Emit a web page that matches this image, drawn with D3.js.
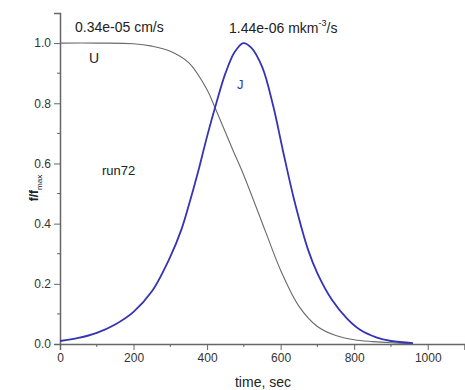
<!DOCTYPE html>
<html>
<head>
<meta charset="utf-8">
<script src="https://cdn.jsdelivr.net/npm/d3@7"></script>
<style>
  body { margin: 0; background: #fff; }
  text { font-family: Arial, "Liberation Sans", sans-serif; }
</style>
</head>
<body>
<div id="chart"></div>
<script>
// curve U (normalised)
const uTime = [0, 100, 200, 250, 300, 350, 400, 420, 470, 500, 560, 600, 650, 700, 750, 800, 850, 900, 960];
const uValue = [1.0, 1.0, 0.998, 0.99, 0.973, 0.935, 0.845, 0.79, 0.645, 0.56, 0.37, 0.245, 0.125, 0.058, 0.028, 0.014, 0.008, 0.004, 0.001];

// curve J (normalised)
const jTime = [0, 50, 100, 150, 200, 250, 300, 330, 350, 375, 400, 425, 450, 475, 498, 520, 550, 580, 606, 637, 675, 700, 740, 780, 816, 860, 900, 960];
const jValue = [0.01, 0.02, 0.037, 0.065, 0.107, 0.175, 0.29, 0.38, 0.46, 0.57, 0.69, 0.80, 0.90, 0.97, 1.0, 0.985, 0.92, 0.79, 0.644, 0.478, 0.312, 0.235, 0.146, 0.085, 0.047, 0.022, 0.01, 0.003];

const xTicks = [0, 200, 400, 600, 800, 1000];
const yTicks = [0.0, 0.2, 0.4, 0.6, 0.8, 1.0];

const width = 465, height = 390;
const margin = { top: 13, right: 0, bottom: 46, left: 60 };

const svg = d3.select("#chart").append("svg")
    .attr("width", width)
    .attr("height", height);

const x = d3.scaleLinear().domain([0, 1100]).range([margin.left, width - 0.5]);
const y = d3.scaleLinear().domain([0, 1.1]).range([height - margin.bottom, margin.top]);

const axisColor = "#666";

// minor ticks
svg.append("g")
    .selectAll("line")
    .data(d3.range(100, 1100, 200))
    .enter()
    .append("line")
    .attr("x1", d => x(d)).attr("x2", d => x(d))
    .attr("y1", y(0)).attr("y2", y(0) + 3)
    .attr("stroke", axisColor);

svg.append("g")
    .selectAll("line")
    .data(d3.range(0.1, 1.1, 0.2))
    .enter()
    .append("line")
    .attr("x1", x(0) - 3).attr("x2", x(0))
    .attr("y1", d => y(d)).attr("y2", d => y(d))
    .attr("stroke", axisColor);

// axes
const xAxis = svg.append("g")
    .attr("transform", `translate(0, ${y(0)})`)
    .call(d3.axisBottom(x).tickValues(xTicks).tickSize(6).tickPadding(3).tickFormat(d3.format("d")));

const yAxis = svg.append("g")
    .attr("transform", `translate(${x(0)}, 0)`)
    .call(d3.axisLeft(y).tickValues(yTicks).tickSize(6).tickPadding(3).tickFormat(d3.format(".1f")));

[xAxis, yAxis].forEach(g => {
    g.select(".domain").attr("stroke", axisColor).attr("stroke-width", 1.5);
    g.selectAll(".tick line").attr("stroke", axisColor);
    g.selectAll(".tick text")
        .attr("fill", "#333")
        .attr("font-size", "12px")
        .attr("font-family", "Arial, 'Liberation Sans', sans-serif");
});

// curves
const line = d3.line()
    .x(d => x(d[0]))
    .y(d => y(d[1]))
    .curve(d3.curveCatmullRom.alpha(0.5));

svg.append("path")
    .datum(d3.zip(uTime, uValue))
    .attr("fill", "none")
    .attr("stroke", "#6a6a6a")
    .attr("stroke-width", 1.1)
    .attr("d", line);

svg.append("path")
    .datum(d3.zip(jTime, jValue))
    .attr("fill", "none")
    .attr("stroke", "#3434b4")
    .attr("stroke-width", 1.8)
    .attr("d", line);

// annotations
svg.append("text")
    .attr("x", 75).attr("y", 32)
    .attr("font-size", "14px").attr("fill", "#222")
    .text("0.34e-05 cm/s");

svg.append("text")
    .attr("x", 89).attr("y", 63)
    .attr("font-size", "14px").attr("fill", "#222")
    .text("U");

const jt = svg.append("text")
    .attr("x", 229).attr("y", 33)
    .attr("font-size", "14px").attr("fill", "#222");
jt.append("tspan").text("1.44e-06 mkm");
jt.append("tspan").attr("dy", -7).attr("font-size", "9px").text("-3");
jt.append("tspan").attr("dy", 7).text("/s");

svg.append("text")
    .attr("x", 237).attr("y", 89)
    .attr("font-size", "13px").attr("fill", "#3434b4")
    .text("J");

svg.append("text")
    .attr("x", 102).attr("y", 175)
    .attr("font-size", "13px").attr("fill", "#222")
    .text("run72");

// axis labels
svg.append("text")
    .attr("x", 263).attr("y", 387)
    .attr("text-anchor", "middle")
    .attr("font-size", "14px").attr("fill", "#222")
    .text("time, sec");

const yl = svg.append("text")
    .attr("transform", "translate(38, 188) rotate(-90)")
    .attr("text-anchor", "middle")
    .attr("font-size", "12px").attr("font-weight", "bold").attr("fill", "#222");
yl.append("tspan").text("f/f");
yl.append("tspan").attr("dy", 4).attr("font-size", "8px").attr("font-weight", "normal").text("max");
</script>
</body>
</html>
